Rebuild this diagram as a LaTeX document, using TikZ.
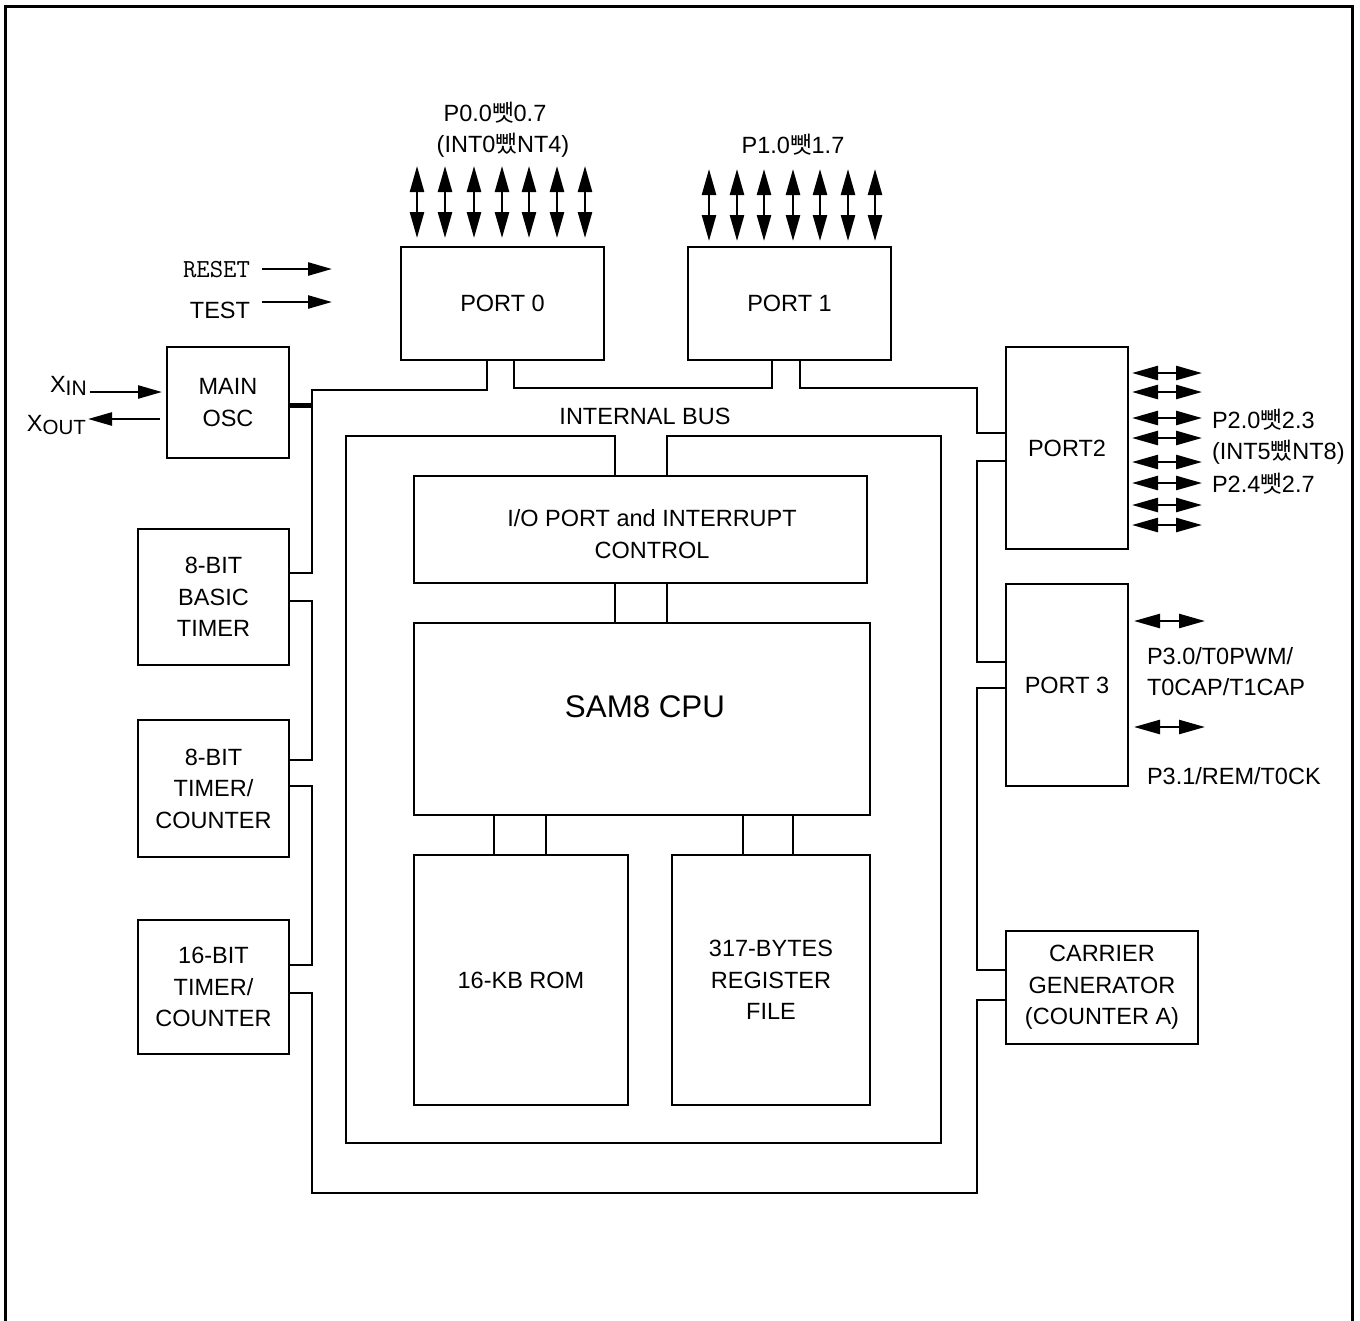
\documentclass[tikz,border=0pt]{standalone}
\usepackage{fontspec}
\setmainfont{Liberation Sans}
\newfontfamily\krfont{Noto Sans CJK KR}
\usetikzlibrary{arrows.meta}
\newcommand\kcA{{\krfont 뺏}}
\newcommand\kcB{{\krfont 뺐}}
\newcommand\mainsz{\fontsize{23.5}{31.5}\selectfont}
\tikzset{
  box/.style={draw, line width=2.2pt, inner sep=0pt, outer sep=0pt, align=center, font=\mainsz},
  txt/.style={inner sep=0pt, outer sep=0pt, align=center, font=\mainsz},
  dbl/.style={line width=2.5pt, {Triangle[length=26pt,width=14pt]}-{Triangle[length=26pt,width=14pt]}},
  sgl/.style={line width=2.5pt, -{Triangle[length=24pt,width=13pt]}},
  bus/.style={line width=2.2pt},
}
\begin{document}
\begin{tikzpicture}[x=1pt,y=-1pt]
\useasboundingbox (0,0) rectangle (1360,1320);
% frame
\draw[line width=3pt] (5,1322) -- (5,6) -- (1352,6) -- (1352,1322);

% boxes
\node[box, minimum width=203pt, minimum height=113pt] (p0) at (502.5,303.5) {PORT 0};
\node[box, minimum width=203pt, minimum height=113pt] (p1) at (789.5,303.5) {PORT 1};
\node[box, minimum width=122pt, minimum height=111pt] (osc) at (228,402.5) {MAIN\\OSC};
\node[box, minimum width=151pt, minimum height=136pt] (bt) at (213.5,597) {8-BIT\\BASIC\\TIMER};
\node[box, minimum width=151pt, minimum height=137pt] (tc8) at (213.5,788.5) {8-BIT\\TIMER/\\COUNTER};
\node[box, minimum width=151pt, minimum height=134pt] (tc16) at (213.5,987) {16-BIT\\TIMER/\\COUNTER};
\node[box, minimum width=122pt, minimum height=202pt] (p2) at (1067,448) {PORT2};
\node[box, minimum width=122pt, minimum height=202pt] (p3) at (1067,685) {PORT 3};
\node[box, minimum width=192pt, minimum height=113pt] (cg) at (1102,987.5) {CARRIER\\GENERATOR\\(COUNTER A)};
\node[box, minimum width=453pt, minimum height=107pt] (io) at (640.5,529.5) {};
\node[txt] (iot) at (652,534) {I/O PORT and INTERRUPT\\CONTROL};
\node[box, minimum width=456pt, minimum height=192pt] (cpu) at (642,719) {};
\node[txt, font=\fontsize{31.3}{36}\selectfont] (cput) at (645,707) {SAM8 CPU};
\node[box, minimum width=214pt, minimum height=250pt] (rom) at (521,980) {16-KB ROM};
\node[box, minimum width=198pt, minimum height=250pt] (rf) at (771,980) {317-BYTES\\REGISTER\\FILE};

\node[txt] (busl) at (645,416) {INTERNAL BUS};

% inner box with bus gap
\draw[bus] ([xshift=201pt]io.north west) -- ++(0,-40) -- (346,436) -- (346,1143) -- (941,1143) -- (941,436) -| ([xshift=253pt]io.north west);

% internal connections
\draw[bus] ([xshift=201pt]io.south west) coordinate (a1) -- (a1 |- cpu.north);
\draw[bus] ([xshift=253pt]io.south west) coordinate (a2) -- (a2 |- cpu.north);
\draw[bus] ([xshift=80pt]rom.north west) coordinate (a3) -- (a3 |- cpu.south);
\draw[bus] ([xshift=132pt]rom.north west) coordinate (a4) -- (a4 |- cpu.south);
\draw[bus] ([xshift=71pt]rf.north west) coordinate (a5) -- (a5 |- cpu.south);
\draw[bus] ([xshift=121pt]rf.north west) coordinate (a6) -- (a6 |- cpu.south);

% outer bus chain
\draw[bus] ([xshift=86pt]p0.south west) -- ++(0,30) -- (312,390) |- ([yshift=-44pt]bt.north east);
\draw[bus] ([yshift=-72pt]bt.north east) -- ++(23,0) |- ([yshift=-40pt]tc8.north east);
\draw[bus] ([yshift=-66pt]tc8.north east) -- ++(23,0) |- ([yshift=-45pt]tc16.north east);
\draw[bus] ([yshift=-73pt]tc16.north east) -- ++(23,0) |- (977,1193) |- ([yshift=-69pt]cg.north west);
\draw[bus] ([yshift=-39pt]cg.north west) -- ++(-29,0) |- ([yshift=-104pt]p3.north west);
\draw[bus] ([yshift=-78pt]p3.north west) -- ++(-29,0) |- ([yshift=-114pt]p2.north west);
\draw[bus] ([yshift=-86pt]p2.north west) -- ++(-29,0) -- (977,388) -| ([xshift=112pt]p1.south west);
\draw[bus] ([xshift=84pt]p1.south west) -- ++(0,28) -| ([xshift=113pt]p0.south west);
\draw[line width=5pt] ([yshift=-2.5pt]osc.east) -- ++(23,0);

% port 0 pins
\foreach \dx in {16,44,73,101,128,156,184}
  \draw[dbl] ([xshift=\dx pt,yshift=9pt]p0.north west) -- ++(0,-72);
\node[txt] (p0l1) at (495,113) {P0.0\kcA0.7};
\node[txt] (p0l2) at (503,145) {(INT0\kcB NT4)};

% port 1 pins
\foreach \dx in {21,49,76,105,132,160,187}
  \draw[dbl] ([xshift=\dx pt,yshift=6pt]p1.north west) -- ++(0,-72);
\node[txt] (p1l) at (793,145) {P1.0\kcA1.7};

% port 2 pins
\foreach \dy in {26,45,71,91,115,136,158,178}
  \draw[dbl] ([xshift=4pt,yshift=-\dy pt]p2.north east) -- ++(70,0);
\node[txt, anchor=west] (p2l1) at (1212,420) {P2.0\kcA2.3};
\node[txt, anchor=west] (p2l2) at (1212,452) {(INT5\kcB NT8)};
\node[txt, anchor=west] (p2l3) at (1212,484) {P2.4\kcA2.7};

% port 3 pins
\foreach \dy in {37,143}
  \draw[dbl] ([xshift=6pt,yshift=-\dy pt]p3.north east) -- ++(71,0);
\node[txt, anchor=west] (p3l1) at (1147,656) {P3.0/T0PWM/};
\node[txt, anchor=west] (p3l2) at (1147,687) {T0CAP/T1CAP};
\node[txt, anchor=west] (p3l3) at (1147,776) {P3.1/REM/T0CK};

% reset / test
\node[txt, anchor=east, font=\ttfamily\fontsize{26}{30}\selectfont] (reset) at (250,270) {RESET};
\node[txt, anchor=east] (test) at (250,310) {TEST};
\draw[sgl] ([xshift=12pt,yshift=1pt]reset.east) -- ++(70,0);
\draw[sgl] ([xshift=12pt,yshift=8pt]test.east) -- ++(70,0);

% oscillator pins
\node[txt, anchor=west] (xin) at (50,386) {X\raisebox{-3pt}{\fontsize{21}{21}\selectfont IN}};
\node[txt, anchor=west] (xout) at (27,425) {X\raisebox{-3pt}{\fontsize{20.5}{21}\selectfont OUT}};
\draw[sgl] ([xshift=-77pt,yshift=10.5pt]osc.west) -- ([xshift=-5pt,yshift=10.5pt]osc.west);
\draw[sgl] ([xshift=-7pt,yshift=-16.5pt]osc.west) -- ([xshift=-79pt,yshift=-16.5pt]osc.west);
\end{tikzpicture}
\end{document}
